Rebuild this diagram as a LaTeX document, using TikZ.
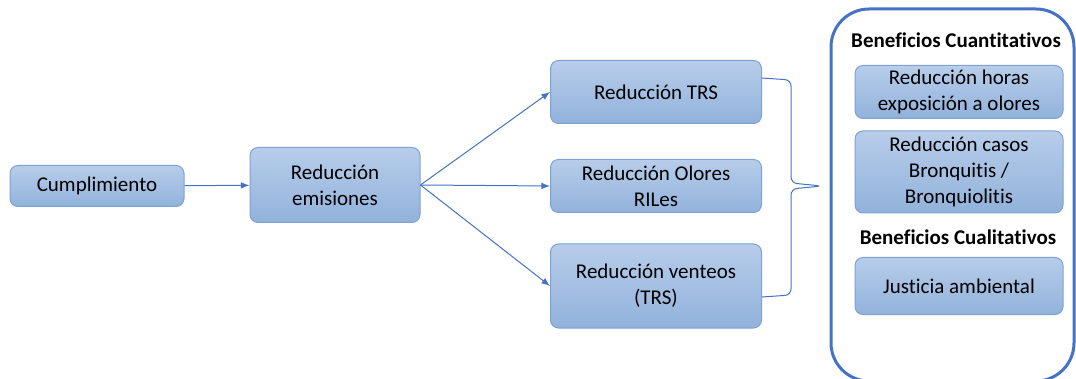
\documentclass[tikz,border=0pt]{standalone}
\usepackage{fontspec}
\setmainfont[Ligatures=NoCommon]{Carlito}
\usepackage{tikz}
\tikzset{font={\fontsize{10.5pt}{13}\selectfont}}
\usetikzlibrary{arrows}
\usepackage{xcolor}
\definecolor{boxtop}{HTML}{B7CDEA}
\definecolor{boxbot}{HTML}{92B2DB}
\definecolor{boxline}{HTML}{7EA2D2}
\definecolor{linkblue}{HTML}{4472C4}

\begin{document}
\begin{tikzpicture}[x=0.5pt,y=-0.5pt,->,>=latex,
                    step box/.style={rectangle,rounded corners=4pt,draw=boxline,line width=0.5pt,
                      top color=boxtop,bottom color=boxbot,align=center,inner sep=2pt},
                    head/.style={font=\fontsize{10.5pt}{13}\selectfont\bfseries}]
  \useasboundingbox (0,0) rectangle (1076,379);

  \node[step box,minimum width=87pt,minimum height=20.5pt] (cump) at (97,186) {Cumplimiento};
  \node[step box,minimum width=85pt,minimum height=37.5pt] (emis) at (335,185) {Reducción\\emisiones};
  \node[step box,minimum width=105.5pt,minimum height=31.5pt] (trs) at (656,92) {Reducción TRS};
  \node[step box,minimum width=105.5pt,minimum height=26.5pt] (olor) at (656,186) {Reducción Olores\\RILes};
  \node[step box,minimum width=105.5pt,minimum height=42pt] (vent) at (656,286) {Reducción venteos\\(TRS)};

  % panel de beneficios
  \node[draw=linkblue,line width=1.5pt,rounded corners=19pt,minimum width=121.5pt,
        minimum height=186pt] (panel) at (952.5,195) {};
  \node[head] (cuant) at (956,40) {Beneficios Cuantitativos};
  \node[step box,minimum width=104pt,minimum height=26.5pt] (horas) at (959,92) {Reducción horas\\exposición a olores};
  \node[step box,minimum width=104pt,minimum height=41pt] (bronq) at (959,172) {Reducción casos\\Bronquitis /\\Bronquiolitis};
  \node[head] (cual) at (958,237) {Beneficios Cualitativos};
  \node[step box,minimum width=104pt,minimum height=28.5pt] (just) at (959,286) {Justicia ambiental};

  \path[linkblue,line width=0.5pt]
    (cump) edge (emis)
    (emis.east) edge (trs.west)
                edge (olor.west)
                edge (vent.west);

  % llave
  \coordinate (tip) at (822,186);
  \draw[-,linkblue,line width=0.5pt,rounded corners=3pt]
    ([yshift=7pt]trs.east) -- ++(29,2) -- (791,183) -- (tip) -- (791,189)
    -- (791,295) -- ([yshift=-5.5pt]vent.east);
\end{tikzpicture}
\end{document}
